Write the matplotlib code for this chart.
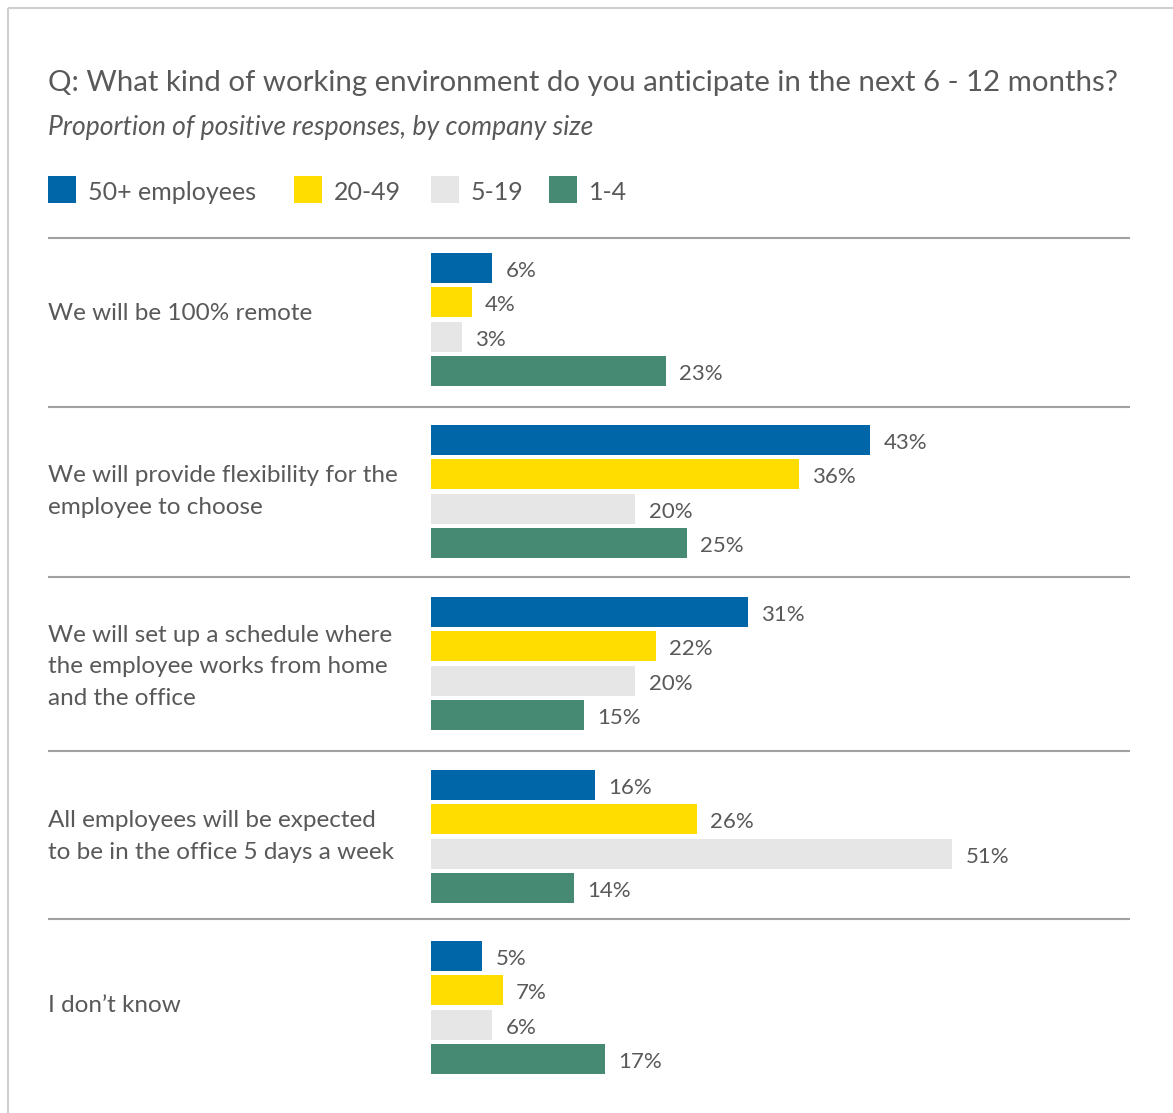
import matplotlib
matplotlib.use("Agg")
import matplotlib.pyplot as plt
from matplotlib.patches import Rectangle

plt.rcParams['font.family'] = ['Lato', 'DejaVu Sans']

# ---- data ----
categories = [
    "We will be 100% remote",
    "We will provide flexibility for the\nemployee to choose",
    "We will set up a schedule where\nthe employee works from home\nand the office",
    "All employees will be expected\nto be in the office 5 days a week",
    "I don\u2019t know",
]
series_names = ["50+ employees", "20-49", "5-19", "1-4"]
v_50plus = [6, 43, 31, 16, 5]
v_20_49 = [4, 36, 22, 26, 7]
v_5_19 = [3, 20, 20, 51, 6]
v_1_4 = [23, 25, 15, 14, 17]
series_values = [v_50plus, v_20_49, v_5_19, v_1_4]
colors = ["#0066A8", "#FFDD00", "#E6E6E6", "#478A74"]

title = "Q: What kind of working environment do you anticipate in the next 6 - 12 months?"
subtitle = "Proportion of positive responses, by company size"

# ---- layout (pixels) ----
W, H = 1173, 1113
TXT = "#595959"
group_first_bar = [268, 440, 612, 785, 956]
bar_pitch = 34.4
bar_h = 30
separators = [238, 407, 577, 751, 919]
label_offsets = [-6, 0, 3, 0, -2]
bar_left_px = 431
px_per_pct = 10.22

fig = plt.figure(figsize=(W / 100, H / 100), dpi=100)
bg = fig.add_axes([0, 0, 1, 1])
bg.set_xlim(0, W)
bg.set_ylim(H, 0)
bg.axis("off")

# frame
bg.add_patch(Rectangle((8, 8), W + 20, H + 20, fill=False, edgecolor="#cfcfcf", lw=1.5))

bg.text(48, 83, title, fontsize=21.2, color=TXT, va="center", ha="left")
bg.text(48, 128, subtitle, fontsize=19.1, color=TXT, va="center", ha="left", style="italic")

# legend
leg_x = [48, 294, 431, 549]
for x, name, c in zip(leg_x, series_names, colors):
    bg.add_patch(Rectangle((x, 176), 28, 27, facecolor=c, edgecolor="none"))
    bg.text(x + 40, 192, name, fontsize=18, color=TXT, va="center", ha="left")

# separators
for y in separators:
    bg.plot([48, 1130], [y, y], color="#a0a0a0", lw=1.5, solid_capstyle="butt")

# category labels
for g, cat in enumerate(categories):
    yc = group_first_bar[g] + 1.5 * bar_pitch + label_offsets[g]
    bg.text(48, yc, cat, fontsize=17.5, color=TXT, va="center", ha="left", linespacing=1.62)

# bars axes
ax = fig.add_axes([bar_left_px / W, 0, (W - bar_left_px) / W, 1])
ax.set_xlim(0, (W - bar_left_px) / px_per_pct)
ax.set_ylim(H, 0)
ax.axis("off")
ax.patch.set_alpha(0)

for s, (vals, c) in enumerate(zip(series_values, colors)):
    ys = [group_first_bar[g] + s * bar_pitch for g in range(len(categories))]
    ax.barh(ys, vals, height=bar_h, color=c, edgecolor="none")
    for y, v in zip(ys, vals):
        ax.text(v + 1.3, y + 3, f"{v}%", fontsize=16, color=TXT, va="center", ha="left")

fig.savefig("out.png", dpi=100, facecolor="white")
